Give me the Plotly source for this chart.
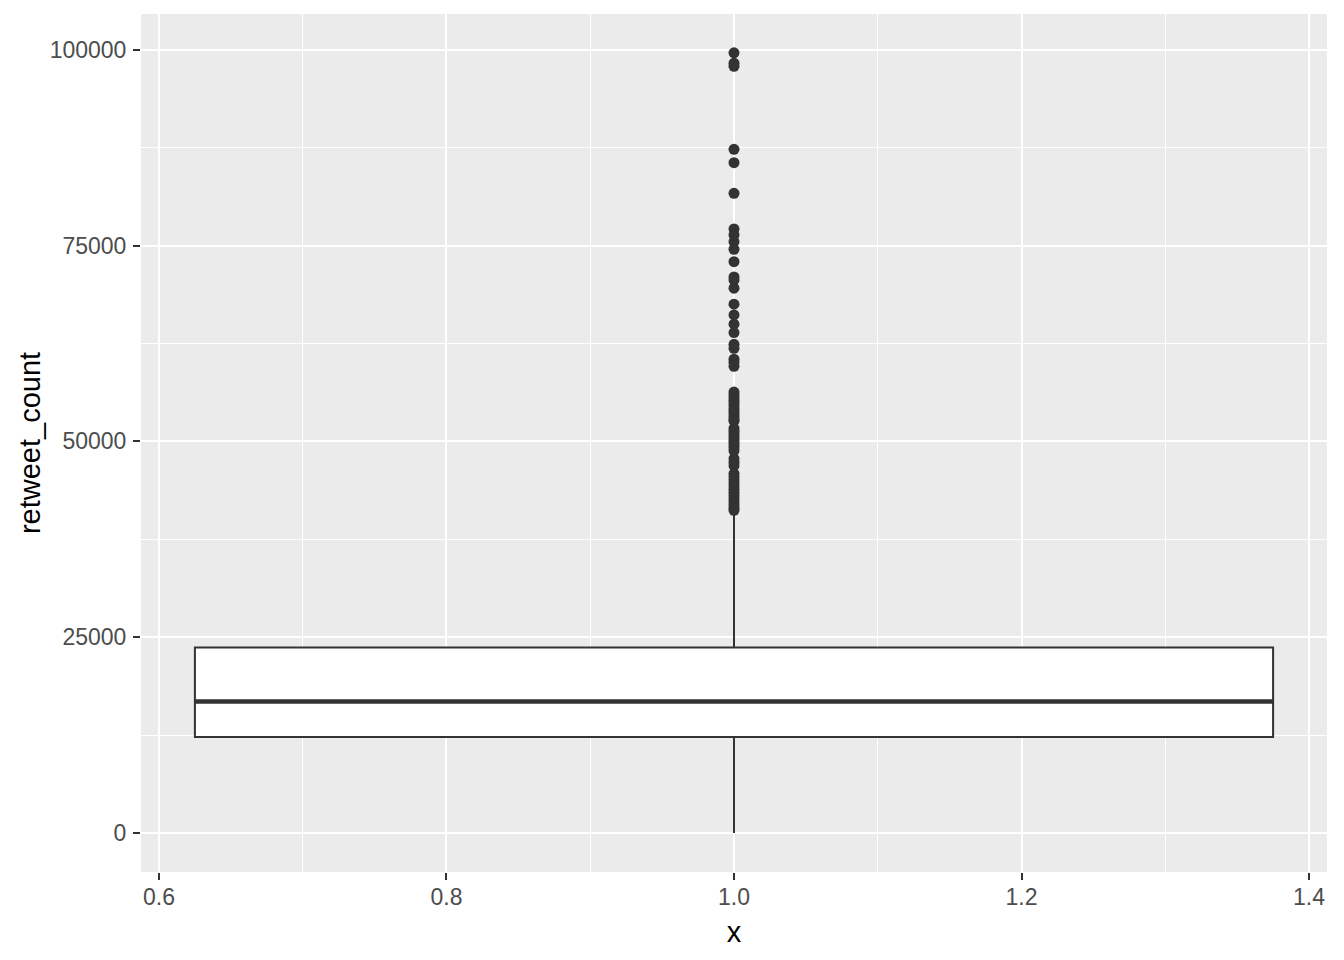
import plotly.graph_objects as go

# ---- data ----
category_x = [1.0]
q1_vals = [12250]
median_vals = [16800]
q3_vals = [23690]
lower_fence_vals = [0]
upper_fence_vals = [40700]

outliers = [
    99620, 98300, 97900,
    87300, 85590, 81680,
    77130, 76370, 75510, 74540, 72960, 71000, 70600,
    69570, 67520, 66160, 64970, 63900, 62400, 61900,
    60500, 60100, 59600,
    56300, 55950, 55600, 55250, 54900, 54550, 54200, 53850, 53500, 53150, 52800, 52600,
    51650, 51300, 50950, 50600, 50250, 49900, 49550, 49200, 48800,
    47800, 47350, 46900,
    45900, 45500, 45100, 44700, 44300, 43900, 43500, 43100, 42700, 42300, 41900, 41550, 41200,
]

x_tick_vals = [0.6, 0.8, 1.0, 1.2, 1.4]
x_tick_text = ["0.6", "0.8", "1.0", "1.2", "1.4"]
y_tick_vals = [0, 25000, 50000, 75000, 100000]
y_tick_text = ["0", "25000", "50000", "75000", "100000"]

BOX_WIDTH = 0.75
DARK = "#333333"
FONT = "Liberation Sans, Arial, sans-serif"

fig = go.Figure()

fig.add_trace(go.Box(
    x=category_x,
    q1=q1_vals, median=median_vals, q3=q3_vals,
    lowerfence=lower_fence_vals, upperfence=upper_fence_vals,
    width=BOX_WIDTH,
    whiskerwidth=0,
    fillcolor="white",
    line=dict(color=DARK, width=2),
    boxpoints=False,
    showlegend=False,
    hoverinfo="skip",
))

# thick median line (ggplot style)
for xc, med in zip(category_x, median_vals):
    fig.add_trace(go.Scatter(
        x=[xc - BOX_WIDTH / 2, xc + BOX_WIDTH / 2], y=[med, med],
        mode="lines", line=dict(color=DARK, width=4.5),
        showlegend=False, hoverinfo="skip",
    ))

fig.add_trace(go.Scatter(
    x=[category_x[0]] * len(outliers), y=outliers,
    mode="markers",
    marker=dict(color=DARK, size=11, line=dict(width=0)),
    showlegend=False,
))

# the page body adds an 8px offset; compensate so the plot sits where the reference has it
fig.update_layout(
    width=1336, height=952, autosize=False,
    margin=dict(l=133, r=17, t=6, b=88),
    paper_bgcolor="white",
    plot_bgcolor="#EBEBEB",
    font=dict(family=FONT, color="#4D4D4D", size=23),
)

fig.update_xaxes(
    range=[0.5875, 1.4125],
    tickmode="array", tickvals=x_tick_vals, ticktext=x_tick_text,
    showgrid=True, gridcolor="white", gridwidth=2,
    minor=dict(tick0=0.5, dtick=0.1, showgrid=True, gridcolor="white", gridwidth=1, ticklen=0),
    zeroline=False, showline=False,
    ticks="outside", ticklen=7, tickwidth=2, tickcolor=DARK,
    tickfont=dict(size=23, color="#4D4D4D"),
    ticklabelstandoff=-3,
    title=dict(text="x", font=dict(size=29, color="black"), standoff=13),
)

fig.update_yaxes(
    range=[-4980, 104580],
    tickmode="array", tickvals=y_tick_vals, ticktext=y_tick_text,
    showgrid=True, gridcolor="white", gridwidth=2,
    minor=dict(tick0=-12500, dtick=25000, showgrid=True, gridcolor="white", gridwidth=1, ticklen=0),
    zeroline=False, showline=False,
    ticks="outside", ticklen=7, tickwidth=2, tickcolor=DARK,
    tickfont=dict(size=23, color="#4D4D4D"),
    ticklabelstandoff=2,
    title=dict(text="retweet_count", font=dict(size=29, color="black"), standoff=0),
)

fig.write_html("out.html")
